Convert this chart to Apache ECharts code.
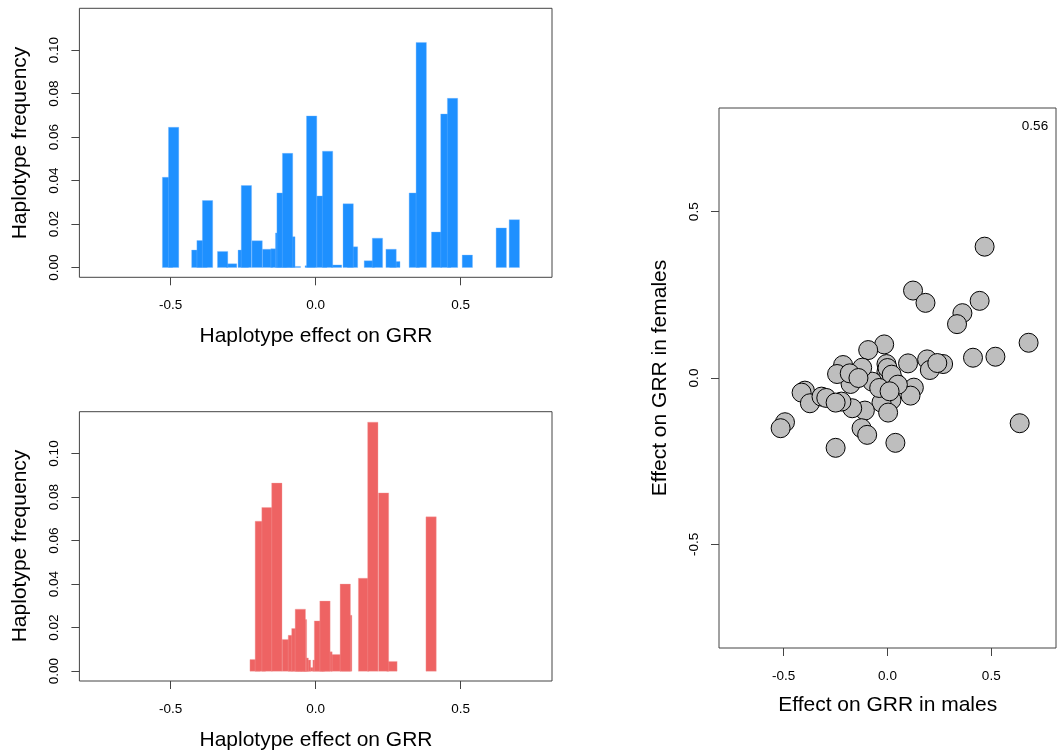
<!DOCTYPE html>
<html><head><meta charset="utf-8">
<script src="https://cdn.jsdelivr.net/npm/echarts@6/dist/echarts.min.js"></script>
<style>html,body{margin:0;padding:0;background:#fff}#c{width:1058px;height:753px}</style>
</head><body><div id="c"></div>
<script>
// ---- data ----
const topEffect = [-0.511, -0.490, -0.410, -0.392, -0.373, -0.321, -0.290, -0.250, -0.239, -0.202, -0.166, -0.137, -0.121, -0.116, -0.097, -0.089, -0.070, -0.019, -0.014, 0.021, 0.041, 0.072, 0.112, 0.127, 0.185, 0.213, 0.260, 0.273, 0.340, 0.364, 0.417, 0.449, 0.472, 0.523, 0.640, 0.685];
const topFreq   = [0.0415, 0.0645, 0.0080, 0.0124, 0.0308, 0.0074, 0.0017, 0.0080, 0.0377, 0.0123, 0.0084, 0.0086, 0.0159, 0.0343, 0.0525, 0.0142, 0.0005, 0.0008, 0.0697, 0.0329, 0.0535, 0.0012, 0.0293, 0.0095, 0.0031, 0.0135, 0.0084, 0.0028, 0.0343, 0.1035, 0.0163, 0.0706, 0.0778, 0.0057, 0.0182, 0.0220];

const botEffect = [-0.209, -0.191, -0.168, -0.134, -0.098, -0.077, -0.065, -0.053, -0.049, -0.043, -0.035, -0.023, 0.008, 0.013, 0.032, 0.039, 0.070, 0.102, 0.107, 0.165, 0.197, 0.234, 0.263, 0.398];
const botFreq   = [0.0054, 0.0689, 0.0752, 0.0864, 0.0146, 0.0165, 0.0196, 0.0285, 0.0237, 0.0061, 0.0051, 0.0017, 0.0051, 0.0231, 0.0322, 0.0089, 0.0077, 0.0400, 0.0257, 0.0427, 0.1144, 0.0819, 0.0045, 0.0709];

const maleEffect   = [0.468, 0.123, 0.183, 0.444, 0.361, 0.335, 0.680, 0.412, 0.520, 0.637, 0.038, -0.016, -0.093, 0.191, 0.204, 0.268, 0.099, -0.005, -0.005, 0.003, 0.035, -0.074, -0.122, -0.178, 0.127, 0.111, 0.019, -0.029, -0.109, 0.003, -0.170, -0.125, -0.098, -0.222, -0.250, -0.214, -0.494, -0.515, -0.398, -0.414, -0.374, -0.318, -0.295, -0.250, -0.243, -0.182, 0.000, 0.020, 0.050, -0.040, 0.240, -0.140, 0.010];
const femaleEffect = [0.395, 0.263, 0.226, 0.232, 0.195, 0.162, 0.106, 0.061, 0.064, -0.136, -0.195, 0.101, 0.084, 0.056, 0.024, 0.042, 0.044, 0.042, 0.019, 0.004, -0.011, -0.011, 0.031, -0.018, -0.029, -0.053, -0.066, -0.074, -0.098, -0.104, -0.091, -0.151, -0.171, -0.071, -0.210, 0.039, -0.133, -0.151, -0.038, -0.044, -0.076, -0.056, -0.060, -0.074, 0.012, 0.014, 0.030, 0.010, -0.020, -0.030, 0.045, 0.000, -0.040];

const histXTicks = [-0.5, 0, 0.5];
const histYTicks = [0, 0.02, 0.04, 0.06, 0.08, 0.10];
const scatTicks = [-0.5, 0, 0.5];
const corrText = '0.56';

// ---- build ----
const BAR_W = 0.0356;
const FONT = '"Liberation Sans", Arial, Helvetica, sans-serif';
const AX = '#444';

function barData(xs, hs) {
  return xs.map((x, i) => [x, hs[i]]).sort((a, b) => a[1] - b[1]);
}
function barRender(color, edge) {
  return function (params, api) {
    const x = api.value(0), h = api.value(1);
    const p0 = api.coord([x - BAR_W / 2, h]);
    const p1 = api.coord([x + BAR_W / 2, 0]);
    return {
      type: 'rect',
      shape: { x: p0[0], y: p0[1], width: p1[0] - p0[0], height: p1[1] - p0[1] },
      style: { fill: color, stroke: edge, lineWidth: 0.6 }
    };
  };
}
function xAx(gi, min, max, ticks) {
  return {
    gridIndex: gi, type: 'value', min: min, max: max,
    axisLine: { show: false, onZero: false },
    splitLine: { show: false },
    axisTick: { show: true, customValues: ticks, length: 8, lineStyle: { color: AX, width: 1 } },
    axisLabel: { customValues: ticks, formatter: v => v.toFixed(1), margin: 21, fontSize: 13.5, color: '#000', fontFamily: FONT }
  };
}
function yAx(gi, min, max, ticks, digits) {
  return {
    gridIndex: gi, type: 'value', min: min, max: max,
    axisLine: { show: false, onZero: false },
    splitLine: { show: false },
    axisTick: { show: true, customValues: ticks, length: 8, lineStyle: { color: AX, width: 1 } },
    axisLabel: { customValues: ticks, formatter: v => v.toFixed(digits), rotate: 90, margin: 18, fontSize: 13.5, color: '#000', fontFamily: FONT }
  };
}
function txt(x, y, s, rot, size) {
  return {
    type: 'text', x: x, y: y, rotation: rot || 0, silent: true,
    style: { text: s, fontSize: size, fontFamily: FONT, fill: '#000', align: 'center', verticalAlign: 'middle' }
  };
}

const chart = echarts.init(document.getElementById('c'), null, { renderer: 'canvas' });
chart.setOption({
  animation: false,
  backgroundColor: '#fff',
  grid: [
    { left: 79.4, top: 8.3, width: 472.6, height: 269, show: true, borderColor: AX, borderWidth: 1 },
    { left: 79.4, top: 411.7, width: 472.6, height: 269.3, show: true, borderColor: AX, borderWidth: 1 },
    { left: 719, top: 108, width: 337, height: 540, show: true, borderColor: AX, borderWidth: 1 }
  ],
  xAxis: [
    xAx(0, -0.815, 0.815, histXTicks),
    xAx(1, -0.815, 0.815, histXTicks),
    xAx(2, -0.812, 0.812, scatTicks)
  ],
  yAxis: [
    yAx(0, -0.0045, 0.1192, histYTicks, 2),
    yAx(1, -0.0045, 0.1192, histYTicks, 2),
    yAx(2, -0.812, 0.812, scatTicks, 1)
  ],
  series: [
    { type: 'custom', xAxisIndex: 0, yAxisIndex: 0, data: barData(topEffect, topFreq), renderItem: barRender('#1E90FF', 'rgba(120,185,255,0.6)'), clip: true },
    { type: 'custom', xAxisIndex: 1, yAxisIndex: 1, data: barData(botEffect, botFreq), renderItem: barRender('#EE6363', 'rgba(245,160,160,0.6)'), clip: true },
    { type: 'scatter', xAxisIndex: 2, yAxisIndex: 2, symbol: 'circle', symbolSize: 19,
      data: maleEffect.map((x, i) => [x, femaleEffect[i]]),
      itemStyle: { color: '#BEBEBE', borderColor: '#000', borderWidth: 1, opacity: 1 } }
  ],
  graphic: [
    txt(316, 336, 'Haplotype effect on GRR', 0, 21),
    txt(316, 740, 'Haplotype effect on GRR', 0, 21),
    txt(20, 143, 'Haplotype frequency', Math.PI / 2, 21),
    txt(20, 546, 'Haplotype frequency', Math.PI / 2, 21),
    txt(887.7, 705, 'Effect on GRR in males', 0, 21),
    txt(660, 378, 'Effect on GRR in females', Math.PI / 2, 21),
    txt(1035, 126, corrText, 0, 13.5)
  ]
});
</script></body></html>
